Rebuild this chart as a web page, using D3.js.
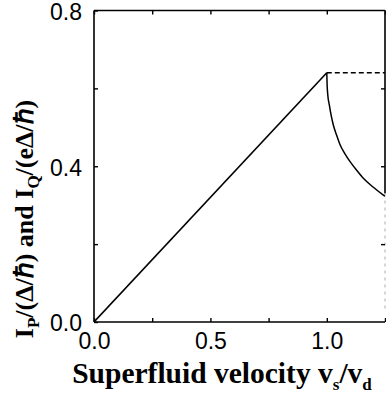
<!DOCTYPE html>
<html>
<head>
<meta charset="utf-8">
<script src="https://cdn.jsdelivr.net/npm/d3@7"></script>
<style>
  html, body { margin: 0; padding: 0; background: #fff; }
  svg { display: block; }
</style>
</head>
<body>
<svg id="chart" width="386" height="394"></svg>
<script>
// ---- data ----
const xTickValues = [0, 0.25, 0.5, 0.75, 1.0, 1.25];
const xTickLabels = ["0.0", "", "0.5", "", "1.0", ""];
const yTickValues = [0, 0.2, 0.4, 0.6, 0.8];
const yTickLabels = ["0.0", "", "0.4", "", "0.8"];

// linear rise (solid)
const riseV = [0.0, 1.0];
const riseI = [0.0, 0.64];
// constant branch above v_d (dashed)
const flatV = [1.0, 1.25];
const flatI = [0.64, 0.64];
// decaying branch above v_d (solid)
const dropV = [1.0, 1.001, 1.004, 1.011, 1.019, 1.028, 1.042, 1.057, 1.078, 1.100, 1.128, 1.157, 1.200, 1.243, 1.25];
const dropI = [0.64, 0.615, 0.585, 0.557, 0.530, 0.506, 0.480, 0.455, 0.432, 0.412, 0.390, 0.369, 0.346, 0.326, 0.323];

// ---- layout ----
const svg = d3.select("#chart");
const mL = 94, mR = 385, mT = 10.5, mB = 322;

const x = d3.scaleLinear().domain([0, 1.25]).range([mL, mR]);
const y = d3.scaleLinear().domain([0, 0.8]).range([mB, mT]);

const zip = (a, b) => a.map((v, i) => [v, b[i]]);
const line = d3.line().x(d => x(d[0])).y(d => y(d[1]));
const curveLine = d3.line().x(d => x(d[0])).y(d => y(d[1])).curve(d3.curveMonotoneX);

svg.append("defs").append("clipPath").attr("id", "clip")
  .append("rect").attr("x", mL).attr("y", mT).attr("width", mR - mL).attr("height", mB - mT);

// frame: left, top, bottom solid; right partly faint (as in scan)
const frame = svg.append("g").attr("stroke", "#000").attr("stroke-width", 1.6).attr("fill", "none");
frame.append("line").attr("x1", mL).attr("x2", mL).attr("y1", mT).attr("y2", mB);
frame.append("line").attr("x1", mL).attr("x2", mR).attr("y1", mT).attr("y2", mT);
frame.append("line").attr("x1", mL).attr("x2", mR).attr("y1", mB).attr("y2", mB);
frame.append("line").attr("x1", mR).attr("x2", mR).attr("y1", mT).attr("y2", y(0.33));
svg.append("line").attr("x1", mR).attr("x2", mR).attr("y1", y(0.33)).attr("y2", y(0.03))
  .attr("stroke", "#bbb").attr("stroke-width", 1.2).attr("stroke-dasharray", "3,4");

// axes (ticks pointing inward)
const xAxis = d3.axisBottom(x).tickValues(xTickValues).tickSize(-4).tickPadding(11)
  .tickFormat((d, i) => xTickLabels[i]);
const gx = svg.append("g").attr("transform", `translate(0,${mB})`).call(xAxis);
const xTop = d3.axisTop(x).tickValues(xTickValues).tickSize(-4).tickFormat("");
const gxt = svg.append("g").attr("transform", `translate(0,${mT})`).call(xTop);
const yAxis = d3.axisLeft(y).tickValues(yTickValues).tickSize(-4).tickPadding(12)
  .tickFormat((d, i) => yTickLabels[i]);
const gy = svg.append("g").attr("transform", `translate(${mL},0)`).call(yAxis);
const yRight = d3.axisRight(y).tickValues(yTickValues.filter(v => v > 0 && v < 0.8)).tickSize(-4).tickFormat("");
const gyr = svg.append("g").attr("transform", `translate(${mR},0)`).call(yRight);

[gx, gxt, gy, gyr].forEach(g => {
  g.select(".domain").remove();
  g.selectAll(".tick line").attr("stroke", "#000").attr("stroke-width", 1.4);
  g.selectAll(".tick text").attr("fill", "#000")
    .style("font-family", "'Liberation Sans', Arial, sans-serif").style("font-size", "23px");
});
gx.selectAll(".tick text").attr("dy", "0.71em");
gy.selectAll(".tick text").attr("dy", "0.38em");

// data lines
const plot = svg.append("g").attr("clip-path", "url(#clip)").attr("fill", "none").attr("stroke", "#000");
plot.append("path").datum(zip(riseV, riseI)).attr("d", line).attr("stroke-width", 1.6);
plot.append("path").datum(zip(flatV, flatI)).attr("d", line).attr("stroke-width", 1.5).attr("stroke-dasharray", "5,3");
plot.append("path").datum(zip(dropV, dropI)).attr("d", curveLine).attr("stroke-width", 1.5);

// axis titles
const serif = "'Liberation Serif', 'Times New Roman', serif";
const xt = svg.append("text").attr("x", 222).attr("y", 383).attr("text-anchor", "middle")
  .style("font-family", serif).style("font-weight", "bold").style("font-size", "29.5px").attr("fill", "#000");
xt.append("tspan").text("Superfluid velocity v");
xt.append("tspan").text("s").style("font-size", "17px").attr("dy", 7);
xt.append("tspan").text("/v").attr("dy", -7);
xt.append("tspan").text("d").style("font-size", "17px").attr("dy", 7);

const yt = svg.append("text").attr("transform", "translate(33,219) rotate(-90)").attr("text-anchor", "middle")
  .style("font-family", serif).style("font-weight", "bold").style("font-size", "26px").attr("fill", "#000");
yt.append("tspan").text("I");
yt.append("tspan").text("P").style("font-size", "17px").attr("dy", 6);
yt.append("tspan").text("/(Δ/ℏ) and I").attr("dy", -6);
yt.append("tspan").text("Q").style("font-size", "17px").attr("dy", 6);
yt.append("tspan").text("/(eΔ/ℏ)").attr("dy", -6);
</script>
</body>
</html>
